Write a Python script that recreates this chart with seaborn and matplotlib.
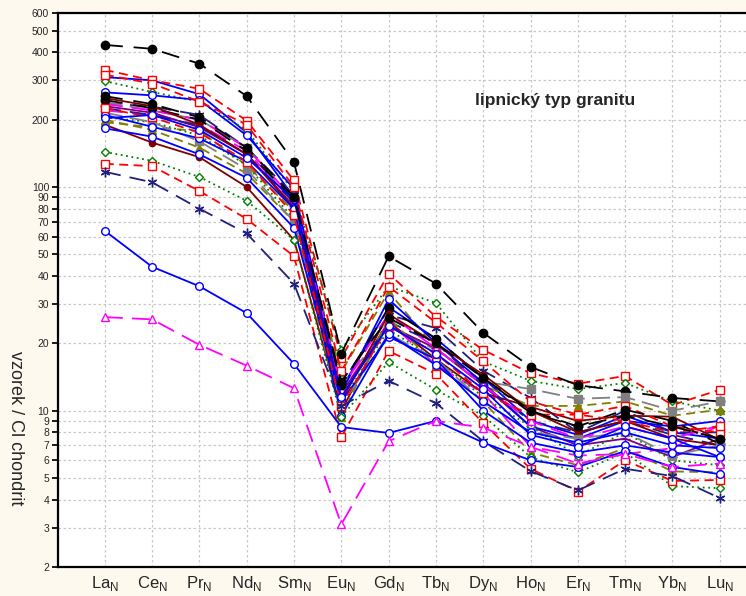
import matplotlib
matplotlib.use("Agg")
import matplotlib.pyplot as plt
import seaborn as sns
import pandas as pd

# ---- data -------------------------------------------------------------
elements = ["La", "Ce", "Pr", "Nd", "Sm", "Eu", "Gd", "Tb", "Dy", "Ho", "Er", "Tm", "Yb", "Lu"]

s_black_top = [432, 415, 356, 255, 129, 18, 49, 37, 22.3, 15.7, 13.0, 12.2, 11.4, 11.0]
s_red_top = [334, 300, 275, 198, 107, 17.2, 41, 26.3, 18.7, 14.7, 13.2, 14.3, 10.6, 12.4]
s_green_top = [298, 266, 241, 180, 95, 18.7, 36, 30.3, 16.6, 13.6, 12.5, 13.3, 11.0, 10.0]
s_red_2 = [318, 290, 241, 190, 100, 15.0, 35.9, 24.8, 16.6, 11.0, 9.6, 10.5, 8.5, 8.0]
s_blue_top = [310, 300, 260, 175, 90, 12.5, 29, 21, 14.0, 9.0, 7.8, 9.5, 8.0, 7.5]
s_blue_2 = [265, 257, 245, 170, 98, 12.0, 31.5, 20.1, 13.3, 8.5, 7.5, 9.0, 8.5, 9.0]
s_gray_1 = [240, 220, 200, 150, 85, 13.0, 23.8, 18.7, 13.5, 12.5, 11.3, 11.5, 10.0, 11.0]
s_olive_1 = [195, 185, 178, 125, 78, 14.9, 34, 19, 13.0, 10.5, 10.5, 11.0, 9.5, 10.1]
s_olive_2 = [200, 180, 150, 115, 70, 9.4, 26, 16, 11.0, 6.5, 5.7, 6.8, 5.35, 5.3]
s_maroon_1 = [190, 158, 136, 100, 58, 10.0, 25, 17, 12.0, 10.4, 9.0, 9.5, 9.4, 7.4]
s_maroon_2 = [250, 230, 190, 140, 80, 11.0, 27, 20, 14.5, 10.0, 8.0, 9.0, 7.5, 7.0]
s_purple_1 = [230, 215, 185, 140, 82, 12.0, 24, 19, 13.0, 8.5, 7.0, 7.5, 6.2, 7.5]
s_navy_1 = [237, 229, 210, 150, 92, 13.3, 26.8, 23.4, 15.1, 11.4, 8.0, 10.0, 8.0, 8.0]
s_blue_3 = [183, 168, 140, 110, 65.6, 11.0, 21.4, 17, 10.0, 7.2, 6.5, 7.0, 6.5, 6.2]
s_blue_4 = [210, 186, 165, 130, 80, 9.5, 22, 16, 11.0, 8.0, 7.2, 8.0, 7.0, 6.8]
s_magenta_1 = [220, 210, 190, 145, 85, 12.0, 25, 16, 12.0, 6.9, 6.3, 6.4, 6.8, 8.6]
s_black_1 = [245, 225, 200, 145, 88, 13.0, 28.7, 21, 14.0, 9.8, 8.5, 10.1, 9.0, 7.1]
s_red_3 = [225, 205, 175, 130, 75, 10.5, 24, 18, 12.0, 9.6, 9.6, 9.0, 8.0, 8.5]
s_green_1 = [205, 195, 170, 125, 72, 11.0, 23, 17, 11.5, 8.5, 6.3, 8.0, 6.0, 5.7]
s_blue_5 = [203, 210, 180, 135, 88, 11.5, 24, 18, 12.5, 7.8, 6.9, 8.5, 7.5, 6.2]
s_gray_2 = [215, 195, 160, 120, 70, 10.5, 22, 17, 11.0, 8.0, 7.5, 8.0, 6.3, 7.0]
s_navy_2 = [225, 210, 188, 140, 85, 11.5, 25, 20, 13.0, 9.0, 8.0, 9.0, 7.8, 7.0]
s_magenta_2 = [235, 220, 200, 150, 88, 12.5, 27, 19, 13.0, 9.0, 7.5, 8.5, 7.5, 8.6]
s_black_2 = [255, 235, 205, 150, 90, 13.5, 26, 20, 14.0, 10.0, 8.5, 9.5, 8.5, 7.5]
s_green_low = [143.6, 131, 111, 86.7, 58, 9.4, 16.5, 12.4, 9.5, 6.2, 5.3, 6.5, 4.6, 4.5]
s_red_low = [127, 124, 96, 72, 49, 7.6, 18.5, 14.6, 8.8, 5.5, 4.35, 6.0, 4.85, 4.9]
s_navy_low = [117, 105, 80, 62, 37, 10.5, 13.6, 10.8, 7.3, 5.37, 4.4, 5.5, 5.1, 4.07]
s_blue_low = [63.7, 44, 36, 27.3, 16.2, 8.45, 7.95, 9.0, 7.2, 6.0, 5.6, 6.6, 5.6, 5.2]
s_magenta_low = [26.2, 25.6, 19.7, 15.9, 12.6, 3.1, 7.3, 9.0, 8.4, 6.9, 5.8, 6.4, 5.6, 5.8]

series = [
    ("blue", s_blue_top), ("red", s_red_top), ("green", s_green_top), ("navy", s_navy_1),
    ("magenta", s_magenta_1), ("black", s_black_top), ("maroon", s_maroon_1), ("olive", s_olive_1),
    ("gray", s_gray_1), ("purple", s_purple_1),
    ("blue", s_blue_2), ("red", s_red_2), ("green", s_green_1), ("navy", s_navy_2),
    ("magenta", s_magenta_2), ("black", s_black_1), ("maroon", s_maroon_2), ("olive", s_olive_2),
    ("gray", s_gray_2), ("blue", s_blue_3), ("blue", s_blue_4), ("red", s_red_3),
    ("blue", s_blue_5), ("black", s_black_2),
    ("green", s_green_low), ("red", s_red_low), ("navy", s_navy_low), ("blue", s_blue_low),
    ("magenta", s_magenta_low),
]

yticks = [2, 3, 4, 5, 6, 7, 8, 9, 10, 20, 30, 40, 50, 60, 70, 80, 90, 100, 200, 300, 400, 500, 600]

# ---- styles -----------------------------------------------------------
styles = {
    "blue": dict(color="#0000ff", ls="-", marker="o", mfc="white", ms=5.5),
    "red": dict(color="#ff0000", ls=(0, (5, 3)), marker="s", mfc="white", ms=6),
    "green": dict(color="#008000", ls=(0, (1, 2)), marker="D", mfc="white", ms=4),
    "navy": dict(color="#202080", ls=(0, (9, 5)), marker=(6, 2, 0), mfc="#202080", ms=7),
    "magenta": dict(color="#ff00ff", ls=(0, (10, 5)), marker="^", mfc="white", ms=6),
    "black": dict(color="#000000", ls=(0, (10, 6)), marker="o", mfc="#000000", ms=6),
    "maroon": dict(color="#800000", ls="-", marker="o", mfc="#800000", ms=4.5),
    "olive": dict(color="#808000", ls=(0, (5, 3)), marker="^", mfc="#808000", ms=6),
    "gray": dict(color="#808080", ls=(0, (10, 4)), marker="s", mfc="#808080", ms=5.5),
    "purple": dict(color="#800080", ls="-", marker="+", mfc="#800080", ms=7),
}

sns.set_theme(style="white")
plt.rcParams["font.family"] = ["Liberation Sans", "DejaVu Sans"]

fig = plt.figure(figsize=(7.46, 5.96), dpi=100, facecolor="#fdf9ee")
W, H = 746, 596
x0, x1 = 57.5, 767.0
ytop, ybot = 13.0, 567.0
ax = fig.add_axes([x0 / W, 1 - ybot / H, (x1 - x0) / W, (ybot - ytop) / H])
ax.set_facecolor("white")

xpos = list(range(1, len(elements) + 1))
for key, vals in series:
    st = styles[key]
    df = pd.DataFrame({"x": xpos, "y": vals})
    sns.lineplot(data=df, x="x", y="y", ax=ax, color=st["color"], linestyle=st["ls"],
                 marker=st["marker"], markerfacecolor=st["mfc"], markeredgecolor=st["color"],
                 markersize=st["ms"], markeredgewidth=1.0, linewidth=1.3, sort=False,
                 legend=False, clip_on=True)

ax.set_yscale("log")
ax.set_ylim(2, 600)
ax.set_xlim(0, 15)
ax.set_yticks(yticks)
ax.set_yticklabels([str(v) for v in yticks], fontsize=7.5)
ax.yaxis.set_minor_locator(matplotlib.ticker.NullLocator())
ax.set_xticks(xpos)
ax.set_xticklabels([e + r"$_\mathregular{N}$" for e in elements], fontsize=12)
ax.tick_params(axis="x", direction="in", length=3, pad=5, color="black")
ax.tick_params(axis="y", direction="out", length=4, pad=2, color="black", left=True)
ax.set_xlabel("")
ax.set_ylabel("")
ax.grid(True, which="major", color="#c8c8c8", linestyle=(0, (2, 2)), linewidth=0.9)
ax.set_axisbelow(True)
for side in ["left", "bottom", "top"]:
    ax.spines[side].set_visible(True)
    ax.spines[side].set_color("black")
    ax.spines[side].set_linewidth(1.6)
ax.spines["right"].set_visible(False)

fig.text(475 / W, 1 - 101 / H, "lipnický typ granitu", fontsize=12.5, fontweight="bold",
         ha="left", va="center")
fig.text(15 / W, 1 - 428 / H, "vzorek / Cl chondrit", fontsize=13, rotation=270,
         ha="center", va="center")

fig.savefig("out.png", dpi=100, facecolor=fig.get_facecolor())
